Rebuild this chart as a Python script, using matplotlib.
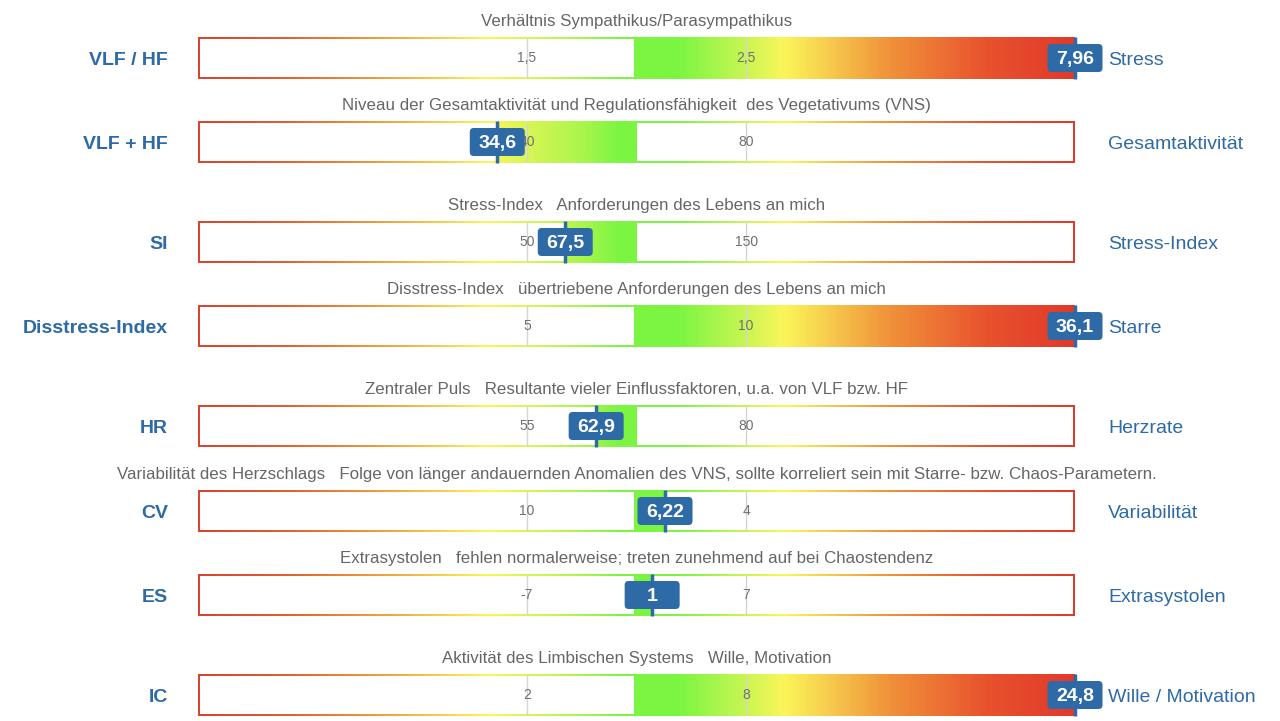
import numpy as np
import matplotlib
matplotlib.use("Agg")
import matplotlib.pyplot as plt
from matplotlib.colors import LinearSegmentedColormap
from matplotlib.patches import Rectangle, FancyBboxPatch

plt.rcParams['font.family'] = ['Liberation Sans', 'DejaVu Sans']

# --- Daten ---
titel = [
    "Verhältnis Sympathikus/Parasympathikus",
    "Niveau der Gesamtaktivität und Regulationsfähigkeit  des Vegetativums (VNS)",
    "Stress-Index   Anforderungen des Lebens an mich",
    "Disstress-Index   übertriebene Anforderungen des Lebens an mich",
    "Zentraler Puls   Resultante vieler Einflussfaktoren, u.a. von VLF bzw. HF",
    "Variabilität des Herzschlags   Folge von länger andauernden Anomalien des VNS, sollte korreliert sein mit Starre- bzw. Chaos-Parametern.",
    "Extrasystolen   fehlen normalerweise; treten zunehmend auf bei Chaostendenz",
    "Aktivität des Limbischen Systems   Wille, Motivation",
]
links = ["VLF / HF", "VLF + HF", "SI", "Disstress-Index", "HR", "CV", "ES", "IC"]
rechts = ["Stress", "Gesamtaktivität", "Stress-Index", "Starre", "Herzrate",
          "Variabilität", "Extrasystolen", "Wille / Motivation"]
tick_unten = [1.5, 40, 50, 5, 55, 10, -7, 2]
tick_oben = [2.5, 80, 150, 10, 80, 4, 7, 8]
werte = [7.96, 34.6, 67.5, 36.1, 62.9, 6.22, 1, 24.8]

# --- Layout (Pixel) ---
W, H = 1280, 721
bar_x0, bar_x1 = 198, 1075
bar_h = 42
bar_top = [37, 121, 221, 305, 405, 490, 574, 674]

BLAU = "#2e6aa6"
GRAU = "#666666"

cmap = LinearSegmentedColormap.from_list("ampel", [
    (0.00, "#d8442f"), (0.10, "#e2602f"), (0.21, "#eea03e"), (0.33, "#fbf55a"),
    (0.44, "#a8f54c"), (0.48, "#7bf542"), (0.55, "#7bf542"), (0.62, "#c4f652"),
    (0.67, "#fbf55a"), (0.79, "#f0923a"), (0.90, "#e8532d"), (1.00, "#e13a2b"),
])


def fmt(v):
    return "{:g}".format(v).replace(".", ",")


fig = plt.figure(figsize=(W / 100, H / 100), dpi=100)
fig.patch.set_facecolor("white")

breite = bar_x1 - bar_x0
bx = 2.0 / breite
by = 2.0 / bar_h
mitte_l, mitte_r = (634 - bar_x0) / breite, (637 - bar_x0) / breite

for i in range(len(werte)):
    ax = fig.add_axes([bar_x0 / W, 1 - (bar_top[i] + bar_h) / H, breite / W, bar_h / H])
    lo, hi = tick_unten[i], tick_oben[i]
    d = hi - lo
    ax.set_xlim(lo - 1.5 * d, hi + 1.5 * d)
    ax.set_ylim(0, 1)
    ax.axis("off")

    xmin, xmax = sorted(ax.get_xlim())
    v = min(max(werte[i], xmin), xmax)
    u = (ax.transData + ax.transAxes.inverted()).transform((v, 0.5))[0]

    grad = np.linspace(0, 1, 600).reshape(1, -1)
    ax.imshow(grad, cmap=cmap, aspect="auto", extent=(0, 1, 0, 1),
              transform=ax.transAxes, zorder=1)

    # weisse Flaechen ausserhalb des gefuellten Bereichs
    l_end = min(u, mitte_l)
    r_start = max(u, mitte_r)
    if l_end > bx:
        ax.add_patch(Rectangle((bx, by), l_end - bx, 1 - 2 * by, transform=ax.transAxes,
                               facecolor="white", edgecolor="none", zorder=2))
    if r_start < 1 - bx:
        ax.add_patch(Rectangle((r_start, by), 1 - bx - r_start, 1 - 2 * by, transform=ax.transAxes,
                               facecolor="white", edgecolor="none", zorder=2))

    for t in (lo, hi):
        ax.plot([t, t], [by, 1 - by], color="#d4d4d4", lw=1, zorder=3)
        ax.text(t, 0.49, fmt(t), ha="center", va="center", fontsize=10,
                color="#707070", zorder=4)

    # Marker
    ax.plot([v, v], [0, 1], color=BLAU, lw=2.5, zorder=5, solid_capstyle="butt",
            clip_on=False)
    px, py = ax.transData.transform((v, 0.5))
    bw, bh = 55, 28
    box = FancyBboxPatch(((px - bw / 2 + 4) / 100, (py - bh / 2 + 4) / 100),
                         (bw - 8) / 100, (bh - 8) / 100,
                         boxstyle="round,pad=0.04,rounding_size=0.04",
                         transform=fig.dpi_scale_trans, facecolor=BLAU,
                         edgecolor="none", zorder=6, clip_on=False)
    fig.add_artist(box)
    fig.text(px / W, (py - 1.5) / H, fmt(werte[i]), ha="center", va="center",
             fontsize=14, fontweight="bold", color="white", zorder=7)

    yc = 1 - (bar_top[i] + bar_h / 2 + 2.5) / H
    fig.text(168 / W, yc, links[i], ha="right", va="center", fontsize=14,
             fontweight="bold", color=BLAU)
    fig.text(1108 / W, yc, rechts[i], ha="left", va="center", fontsize=14,
             color=BLAU)
    fig.text((bar_x0 + bar_x1) / 2 / W, 1 - (bar_top[i] - 15.5) / H, titel[i],
             ha="center", va="center", fontsize=12.2, color=GRAU)

fig.savefig("out.png", dpi=100, facecolor="white")
